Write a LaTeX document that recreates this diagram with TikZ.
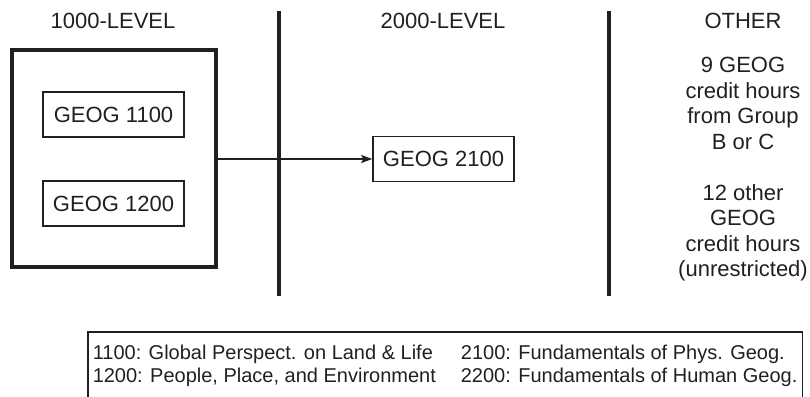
\documentclass[tikz,border=0pt]{standalone}
\usepackage{fontspec}
\setmainfont{Liberation Sans}
\usetikzlibrary{arrows.meta}
\definecolor{ink}{HTML}{231F20}
\tikzset{
  hdr/.style={inner sep=0pt, font=\fontsize{22}{25.5}\selectfont, text=ink},
  course/.style={draw=ink, line width=1.5pt, minimum width=141pt, minimum height=45pt, inner sep=0pt, font=\fontsize{22}{25.5}\selectfont, text=ink},
  grpbox/.style={draw=ink, line width=4pt, minimum width=204pt, minimum height=217pt, inner sep=0pt},
  divider/.style={draw=ink, line width=4pt},
  link/.style={draw=ink, line width=1.5pt, -{Stealth[length=11pt,width=8pt,inset=2pt]}},
  note/.style={hdr, align=center, anchor=north},
  legendbox/.style={draw=ink, line width=1.5pt, inner xsep=5pt, inner ysep=12pt, anchor=north west, font=\fontsize{20}{23}\selectfont, text=ink}
}
\begin{document}
\begin{tikzpicture}[x=1pt,y=-1pt]
\useasboundingbox (0,0) rectangle (810,396);
\clip (0,0) rectangle (810,396);
% column headers
\node[hdr] (h1) at (113,21) {1000-LEVEL};
\node[hdr] (h2) at (443,21) {2000-LEVEL};
\node[hdr] (h3) at (743,21) {OTHER};
% dividers
\coordinate (v1t) at (279,11); \coordinate (v1b) at (279,296);
\coordinate (v2t) at (609,11); \coordinate (v2b) at (609,296);
\draw[divider] (v1t) -- (v1b);
\draw[divider] (v2t) -- (v2b);
% group box
\node[grpbox] (grp) at (114,158.5) {};
\node[course] (g1100) at (113.5,114.5) {GEOG 1100};
\node[course] (g1200) at (113.5,203.5) {GEOG 1200};
\node[course] (g2100) at (443.5,159) {GEOG 2100};
\draw[link] (grp.east |- g2100.west) -- (g2100.west);
% other column
\node[note] (o1) at (743,57) {9 GEOG\\credit hours\\from Group\\B or C};
\node[note] (o2) at (743,184) {12 other\\GEOG\\credit hours\\(unrestricted)};
% legend
\node[legendbox] (legend) at (87,331) {%
\begin{tabular}{@{}l@{\hspace{25pt}}l@{}}
1100: Global Perspect. on Land \& Life & 2100: Fundamentals of Phys. Geog.\\
1200: People, Place, and Environment & 2200: Fundamentals of Human Geog.\\[4pt]
\end{tabular}};
\end{tikzpicture}
\end{document}
